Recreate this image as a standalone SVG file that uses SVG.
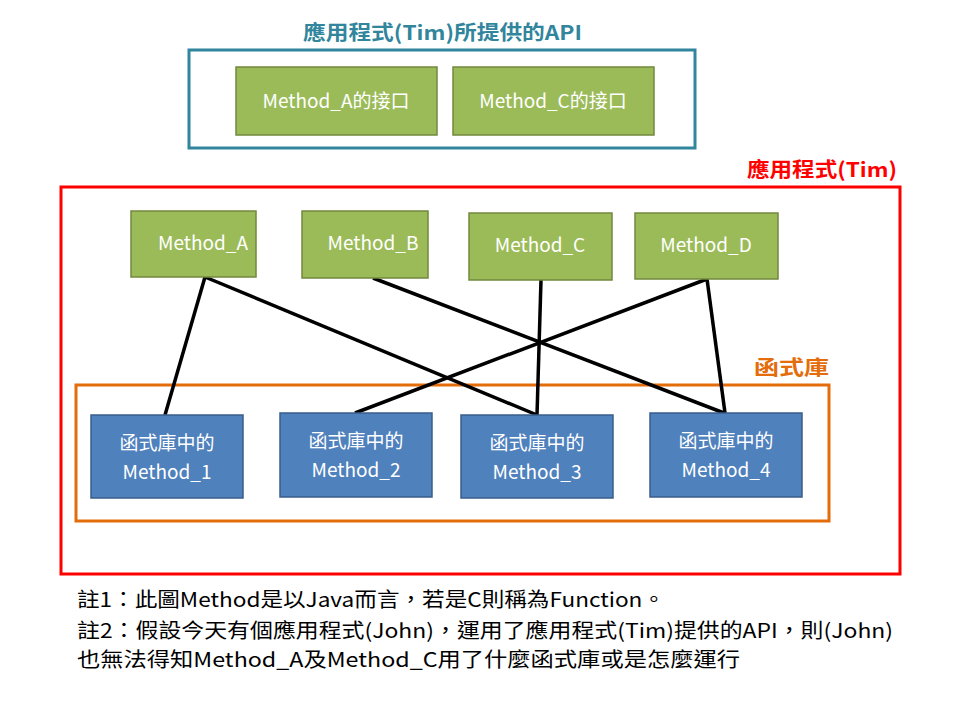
<svg xmlns="http://www.w3.org/2000/svg" width="960" height="720" viewBox="0 0 960 720">
<style>
text{font-family:"Noto Sans CJK TC","Noto Sans",sans-serif}
.g rect{fill:#9BBB59;stroke:#71893F;stroke-width:1.5}
.b rect{fill:#4F81BD;stroke:#385D8A;stroke-width:1.5}
.g text,.b text{fill:#fff;font-size:19px;text-anchor:middle}
.note{font-size:20px;fill:#000}
</style>
<rect width="960" height="720" fill="#fff"/>
<text x="303" y="40" font-size="20" font-weight="bold" fill="#31859C" textLength="279" lengthAdjust="spacingAndGlyphs">應用程式(Tim)所提供的API</text>
<rect x="189" y="50" width="506" height="98" fill="none" stroke="#31859C" stroke-width="3"/>
<g id="apiA" class="g"><rect x="236" y="67" width="201" height="68"/><text x="336" y="108">Method_A的接口</text></g>
<g id="apiC" class="g"><rect x="453" y="67" width="201" height="68"/><text x="553" y="108">Method_C的接口</text></g>
<text x="747" y="177" font-size="20" font-weight="bold" fill="#FF0000" textLength="150" lengthAdjust="spacingAndGlyphs">應用程式(Tim)</text>
<rect x="61" y="187" width="839" height="387" fill="none" stroke="#FF0000" stroke-width="3"/>
<text x="754" y="375" font-size="20" font-weight="bold" fill="#E46C0A" textLength="75" lengthAdjust="spacingAndGlyphs">函式庫</text>
<rect x="76" y="385" width="753" height="136" fill="none" stroke="#E46C0A" stroke-width="3"/>
<g id="connectors" stroke="#000" stroke-width="3.5" fill="none">
<line x1="205" y1="277" x2="165" y2="415"/>
<line x1="205" y1="277" x2="537" y2="415"/>
<line x1="373" y1="278" x2="724" y2="413"/>
<line x1="541" y1="280" x2="537" y2="415"/>
<line x1="707" y1="279" x2="725" y2="413"/>
<line x1="707" y1="279" x2="355" y2="413"/>
</g>
<g id="mA" class="g"><rect x="131" y="211" width="125" height="66"/><text x="203" y="250">Method_A</text></g>
<g id="mB" class="g"><rect x="302" y="211" width="126" height="67"/><text x="373" y="250">Method_B</text></g>
<g id="mC" class="g"><rect x="469" y="213" width="143" height="67"/><text x="540" y="252">Method_C</text></g>
<g id="mD" class="g"><rect x="635" y="213" width="143" height="66"/><text x="706" y="252">Method_D</text></g>
<g id="m1" class="b"><rect x="91" y="415" width="152" height="83"/><text x="167" y="450">函式庫中的</text><text x="167" y="479">Method_1</text></g>
<g id="m2" class="b"><rect x="280" y="413" width="152" height="84"/><text x="356" y="448">函式庫中的</text><text x="356" y="477">Method_2</text></g>
<g id="m3" class="b"><rect x="461" y="415" width="152" height="83"/><text x="537" y="450">函式庫中的</text><text x="537" y="479">Method_3</text></g>
<g id="m4" class="b"><rect x="650" y="413" width="152" height="84"/><text x="726" y="448">函式庫中的</text><text x="726" y="477">Method_4</text></g>
<text class="note" x="77" y="607" textLength="588" lengthAdjust="spacingAndGlyphs">註1：此圖Method是以Java而言，若是C則稱為Function。</text>
<text class="note" x="77" y="638" textLength="816" lengthAdjust="spacingAndGlyphs">註2：假設今天有個應用程式(John)，運用了應用程式(Tim)提供的API，則(John)</text>
<text class="note" x="77" y="667" textLength="663" lengthAdjust="spacingAndGlyphs">也無法得知Method_A及Method_C用了什麼函式庫或是怎麼運行</text>
</svg>
